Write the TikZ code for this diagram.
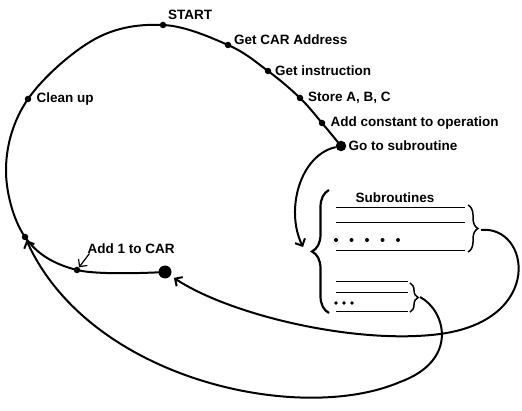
\documentclass[tikz,border=0pt]{standalone}
\usepackage{fontspec}
\setmainfont{Liberation Sans}
\usetikzlibrary{arrows.meta,positioning,decorations.pathreplacing}

\begin{document}
\begin{tikzpicture}[x=1pt,y=-1pt,
    stopdot/.style={circle,fill,inner sep=0pt,minimum size=#1},
    stopdot/.default=6.5pt,
    lbl/.style={inner sep=0pt,font=\fontsize{13.5}{16}\selectfont\bfseries},
    loopline/.style={line width=2pt},
    arr/.style={-{Straight Barb[length=5.5pt,width=11pt]}},
    subline/.style={line width=1pt},
    bracestyle/.style={decorate,decoration={brace,amplitude=#1}}]
   \useasboundingbox (0,0) rectangle (522,411);
   % stops on the main loop
   \node[stopdot] (start) at (163,25) {};
   \node[stopdot] (getcar) at (228,45) {};
   \node[stopdot] (getins) at (268,71) {};
   \node[stopdot] (store) at (300,98) {};
   \node[stopdot] (addc) at (322,123) {};
   \node[stopdot=10.5pt] (gosub) at (341,146) {};
   \node[stopdot] (cleanup) at (28,99) {};
   \node[stopdot] (leftnode) at (25,237) {};
   \node[stopdot] (add1) at (77,270) {};
   \node[stopdot=13pt] (bigdot) at (165,272) {};
   % labels
   \node[lbl] (startlbl) [right=1.5pt of start, yshift=10pt] {START};
   \node[lbl] (getcarlbl) [right=2.5pt of getcar, yshift=5pt] {Get CAR Address};
   \node[lbl] (getinslbl) [right=3.5pt of getins] {Get instruction};
   \node[lbl] (storelbl) [right=4.5pt of store] {Store A, B, C};
   \node[lbl] (addclbl) [right=5pt of addc] {Add constant to operation};
   \node[lbl] (gosublbl) [right=2pt of gosub] {Go to subroutine};
   \node[lbl] (cleanuplbl) [right=5pt of cleanup] {Clean up};
   \node[lbl] (add1lbl) [above right=14pt and 8pt of add1] {Add 1 to CAR};
   \node[lbl] (subs) at (395,198) {Subroutines};
   % subroutine listing
   \foreach \y in {208,223,251}
     \draw[subline] (336,\y) -- (465,\y);
   \foreach \x in {336,351.5,367,382.5,398}
     \fill (\x,240) circle (2pt);
   \foreach \y in {282,293,312}
     \draw[subline] (336,\y) -- (408,\y);
   \foreach \x in {336,344,352}
     \fill (\x,303) circle (1.9pt);
   \draw[bracestyle=17pt, line width=2.2pt] (329,313) -- (329,190);
   \draw[bracestyle=10pt, line width=1.5pt] (468,205) -- (468,252);
   \draw[bracestyle=8pt, line width=1.5pt] (410,283) -- (410,312);
   \coordinate (subin) at (303,247);
   \coordinate (uptip) at (481,230);
   \coordinate (lowtip) at (420,297);
   % main loop
   \draw[loopline] plot[smooth,tension=0.6] coordinates {(gosub.center) (addc.center)
     (store.center) (getins.center) (getcar.center) (start.center) (95,39)
     (cleanup.center) (6,168) (leftnode.center) (add1.center) (bigdot.center)};
   \draw[arr, line width=1.2pt] ([xshift=2pt]add1lbl.south west) -- (add1);
   % jumps
   \draw[loopline, arr] (gosub) .. controls (300,155) and (285,210) .. (subin);
   \draw[loopline, arr, shorten >=4pt] (uptip) .. controls (530,225) and (545,320) .. (440,334)
     .. controls (356,345) and (230,315) .. (bigdot);
   \draw[loopline, arr] (lowtip) .. controls (445,310) and (460,360) .. (400,382)
     .. controls (300,425) and (90,380) .. (leftnode);
\end{tikzpicture}
\end{document}
